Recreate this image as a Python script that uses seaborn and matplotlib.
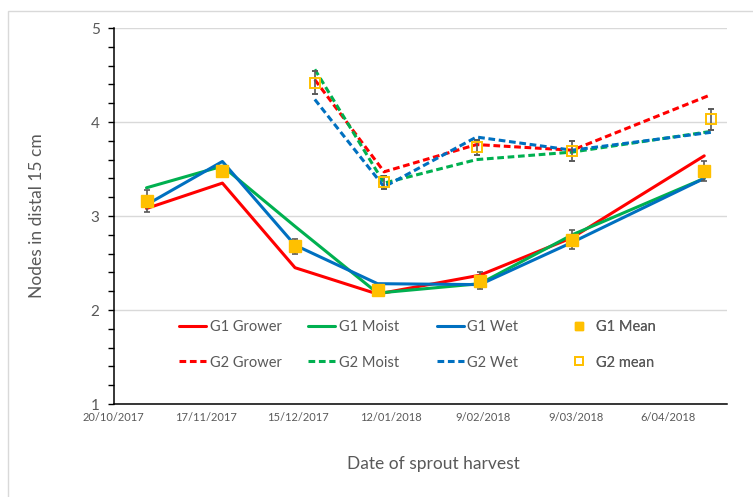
import matplotlib
matplotlib.use('Agg')
import matplotlib.pyplot as plt
from matplotlib.lines import Line2D
from matplotlib.patches import Rectangle
from matplotlib.ticker import MultipleLocator, FixedLocator, NullFormatter
import pandas as pd
import seaborn as sns

# harvest dates and node counts
G1_DATES = ['2017-10-30', '2017-11-22', '2017-12-14', '2018-01-08',
            '2018-02-08', '2018-03-08', '2018-04-17']
G1_GROWER = [3.08, 3.35, 2.45, 2.17, 2.37, 2.77, 3.64]
G1_MOIST = [3.30, 3.53, 2.89, 2.18, 2.28, 2.80, 3.40]
G1_WET = [3.12, 3.58, 2.69, 2.28, 2.27, 2.72, 3.40]
G1_MEAN = [3.16, 3.48, 2.68, 2.21, 2.31, 2.75, 3.48]
G1_ERR = [0.12, 0.05, 0.08, 0.06, 0.09, 0.10, 0.11]

G2_DATES = ['2017-12-20', '2018-01-10', '2018-02-07', '2018-03-08', '2018-04-19']
G2_GROWER = [4.45, 3.47, 3.76, 3.70, 4.29]
G2_MOIST = [4.56, 3.35, 3.60, 3.68, 3.90]
G2_WET = [4.24, 3.31, 3.84, 3.70, 3.89]
G2_MEAN = [4.42, 3.36, 3.73, 3.69, 4.03]
G2_ERR = [0.12, 0.07, 0.08, 0.11, 0.11]

TICK_LABELS = ['20/10/2017', '17/11/2017', '15/12/2017', '12/01/2018',
               '9/02/2018', '9/03/2018', '6/04/2018']

SERIES = ['G1 Grower', 'G1 Moist', 'G1 Wet', 'G2 Grower', 'G2 Moist', 'G2 Wet']
RED, GREEN, BLUE, GOLD = '#FF0000', '#00B050', '#0070C0', '#FFC000'
TXT = '#595959'
DASH = (2.2, 1.2)
COLORS = {'G1 Grower': RED, 'G1 Moist': GREEN, 'G1 Wet': BLUE,
          'G2 Grower': RED, 'G2 Moist': GREEN, 'G2 Wet': BLUE}
DASHES = {'G1 Grower': '', 'G1 Moist': '', 'G1 Wet': '',
          'G2 Grower': DASH, 'G2 Moist': DASH, 'G2 Wet': DASH}

W, H = 753, 497


def build_frame():
    rows = []
    parts = [('G1 Grower', G1_DATES, G1_GROWER), ('G1 Moist', G1_DATES, G1_MOIST),
             ('G1 Wet', G1_DATES, G1_WET), ('G2 Grower', G2_DATES, G2_GROWER),
             ('G2 Moist', G2_DATES, G2_MOIST), ('G2 Wet', G2_DATES, G2_WET)]
    for name, dates, vals in parts:
        for d, v in zip(dates, vals):
            rows.append({'date': pd.Timestamp(d), 'nodes': v, 'series': name})
    return pd.DataFrame(rows)


sns.set_style('white')
plt.rcParams['font.family'] = ['Lato', 'DejaVu Sans']

fig = plt.figure(figsize=(W / 100, H / 100), dpi=100)
ax = fig.add_axes([113.5 / W, 93 / H, 613.5 / W, 376 / H])

df = build_frame()
sns.lineplot(data=df, x='date', y='nodes', hue='series', style='series',
             hue_order=SERIES, style_order=SERIES, palette=COLORS, dashes=DASHES,
             linewidth=2.2, legend=False, ax=ax)

ax.errorbar(pd.to_datetime(G1_DATES), G1_MEAN, yerr=G1_ERR, fmt='s', ms=8,
            mfc=GOLD, mec=GOLD, ecolor=TXT, elinewidth=1.2, capsize=2.5,
            capthick=1.2, zorder=4)
ax.errorbar(pd.to_datetime(G2_DATES), G2_MEAN, yerr=G2_ERR, fmt='s', ms=7.5,
            mfc='none', mec=GOLD, mew=1.4, ecolor=TXT, elinewidth=1.2,
            capsize=2.5, capthick=1.2, zorder=4)

# axes
start = pd.Timestamp('2017-10-20')
ax.set_xlim(start, start + pd.Timedelta(days=185.9))
ax.set_ylim(1, 5)
tick_pos = pd.to_datetime(TICK_LABELS, dayfirst=True)
ax.set_xticks(tick_pos)
ax.set_xticklabels(TICK_LABELS)
minor = pd.date_range(start, periods=27, freq='7D')
ax.xaxis.set_minor_locator(FixedLocator(matplotlib.dates.date2num(minor)))
ax.xaxis.set_minor_formatter(NullFormatter())
ax.yaxis.set_major_locator(MultipleLocator(1))
ax.yaxis.set_minor_locator(MultipleLocator(0.2))

ax.tick_params(axis='x', which='both', direction='in', length=3, width=1,
               color='black', labelsize=8, labelcolor=TXT, pad=6)
ax.tick_params(axis='y', which='both', direction='out', length=4, width=1,
               color='black', labelsize=11, labelcolor=TXT, pad=6, left=True)
for side in ['top', 'right']:
    ax.spines[side].set_visible(False)
for side in ['left', 'bottom']:
    ax.spines[side].set_color('black')
    ax.spines[side].set_linewidth(1.1)
ax.grid(axis='y', color='#D9D9D9', linewidth=1)
ax.grid(axis='x', visible=False)
ax.set_axisbelow(True)

ax.set_ylabel('Nodes in distal 15 cm', fontsize=12.5, color=TXT)
ax.yaxis.set_label_coords(-0.112, 0.5)
ax.set_xlabel('Date of sprout harvest', fontsize=12.5, color=TXT)
ax.xaxis.set_label_coords(0.522, -0.138)
ax.xaxis.label.set_va('top')

# legend, one block per column
def handle(name):
    if name == 'G1 Mean':
        return Line2D([], [], ls='none', marker='s', ms=6, mfc=GOLD, mec=GOLD)
    if name == 'G2 mean':
        return Line2D([], [], ls='none', marker='s', ms=6, mfc='none', mec=GOLD, mew=1.3)
    ls = (0, DASH) if name.startswith('G2') else '-'
    return Line2D([], [], color=COLORS[name], lw=2.2, ls=ls)


LEGEND_COLS = [(0.1068, ['G1 Grower', 'G2 Grower']),
               (0.317, ['G1 Moist', 'G2 Moist']),
               (0.527, ['G1 Wet', 'G2 Wet']),
               (0.736, ['G1 Mean', 'G2 mean'])]
for x, names in LEGEND_COLS:
    leg = ax.legend([handle(n) for n in names], names, loc='center left',
                    bbox_to_anchor=(x, 0.157), frameon=False, fontsize=10.5,
                    labelcolor=TXT, handlelength=1.85, handletextpad=0.25,
                    labelspacing=1.45, borderpad=0, borderaxespad=0)
    ax.add_artist(leg)

# chart-area border
fig.add_artist(Rectangle((8 / W, -0.1), 1.0, 1 - 11 / H + 0.1, transform=fig.transFigure,
                         fill=False, edgecolor='#D9D9D9', linewidth=1))

fig.savefig('out.png', dpi=100)
